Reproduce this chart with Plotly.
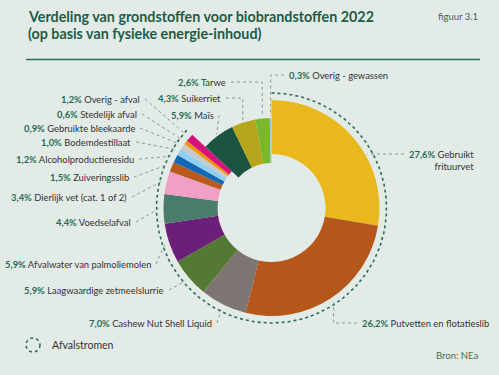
import numpy as np
import plotly.graph_objects as go

# ---------------- data ----------------
waste_labels = ["Gebruikt frituurvet", "Putvetten en flotatieslib", "Cashew Nut Shell Liquid",
                "Laagwaardige zetmeelslurrie", "Afvalwater van palmoliemolen", "Voedselafval",
                "Dierlijk vet (cat. 1 of 2)", "Zuiveringsslib", "Alcoholproductieresidu",
                "Bodemdestillaat", "Gebruikte bleekaarde", "Stedelijk afval", "Overig - afval"]
waste_values = [27.6, 26.2, 7.0, 5.9, 5.9, 4.4, 3.4, 1.5, 1.2, 1.0, 0.9, 0.6, 1.2]
crop_labels = ["Maïs", "Suikerriet", "Tarwe", "Overig - gewassen"]
crop_values = [5.9, 4.3, 2.6, 0.3]

waste_colors = ["#e9b81d", "#b5571a", "#7c7572", "#537933", "#6a2078", "#4b7c69",
                "#f1a0c5", "#b75a1c", "#1268b3", "#8fd0f1", "#c9c9c9", "#f39200", "#d8127b"]
crop_colors = ["#1b5541", "#b7a61c", "#7bb72d", "#8dd2dc"]

# ---------------- layout constants ----------------
W, H = 499, 375
CX, CY = 271.5, 208
R_WASTE, R_CROP, R_ARC = 108, 90, 115
BG = "#e3ebe7"
TITLE_C = "#1d5c47"
PCT_C = "#1f6b55"
TXT_C = "#333333"
FONT = "Lato"
LBL_SIZE = 9.4

# label placement: (x, y, anchor, leader mode, leader y)
label_pos = {
    "Gebruikt frituurvet": (407, 160, "left", "h", 154),
    "Putvetten en flotatieslib": (360, 323, "left", "elbow", 323),
    "Cashew Nut Shell Liquid": (214, 323, "right", "straight", 323),
    "Laagwaardige zetmeelslurrie": (166, 290, "right", "straight", 290),
    "Afvalwater van palmoliemolen": (153, 264, "right", "straight", 264),
    "Voedselafval": (133, 222, "right", "straight", 222),
    "Dierlijk vet (cat. 1 of 2)": (129, 197, "right", "straight", 197),
    "Zuiveringsslib": (131, 177, "right", "straight", 177),
    "Alcoholproductieresidu": (136, 159, "right", "straight", 159),
    "Bodemdestillaat": (133, 142, "right", "straight", 142),
    "Gebruikte bleekaarde": (137, 128, "right", "straight", 128),
    "Stedelijk afval": (139, 114, "right", "straight", 114),
    "Overig - afval": (142, 99, "right", "straight", 99),
    "Maïs": (216, 115, "right", "straight", 115),
    "Suikerriet": (223, 98, "right", "elbow", 98),
    "Tarwe": (228, 82, "right", "elbow", 82),
    "Overig - gewassen": (287, 75, "left", "elbow", 75),
}


def dom(r):
    return dict(x=[(CX - r) / W, (CX + r) / W], y=[(H - CY - r) / H, (H - CY + r) / H])


fig = go.Figure()

waste_total = sum(waste_values)
crop_total = sum(crop_values)
total = waste_total + crop_total

# outer (waste) ring
fig.add_trace(go.Pie(
    values=waste_values + [crop_total],
    labels=waste_labels + ["_crops"],
    marker=dict(colors=waste_colors + ["rgba(0,0,0,0)"], line=dict(width=0)),
    hole=0.5, sort=False, direction="clockwise", rotation=0,
    textinfo="none", hoverinfo="skip", showlegend=False, domain=dom(R_WASTE)))

# inner (crops) ring
fig.add_trace(go.Pie(
    values=[waste_total] + crop_values,
    labels=["_waste"] + crop_labels,
    marker=dict(colors=["rgba(0,0,0,0)"] + crop_colors, line=dict(width=0)),
    hole=0.5, sort=False, direction="clockwise", rotation=0,
    textinfo="none", hoverinfo="skip", showlegend=False, domain=dom(R_CROP)))

# angles from data
all_labels = waste_labels + crop_labels
all_values = waste_values + crop_values
cum = np.cumsum([0] + all_values)
mid_frac = {lab: (cum[i] + all_values[i] / 2) / total for i, lab in enumerate(all_labels)}


def pt(frac, r):
    a = 2 * np.pi * frac
    return CX + r * np.sin(a), CY - r * np.cos(a)


# dotted arc around waste streams
arc_f = np.linspace(0, waste_total / total, 200)
ax_, ay_ = zip(*[pt(f, R_ARC) for f in arc_f])
fig.add_trace(go.Scatter(x=list(ax_), y=list(ay_), mode="lines",
                         line=dict(color="#2b6d57", width=1.6, dash="dot"),
                         hoverinfo="skip", showlegend=False))

# leader lines and labels
lx, ly = [], []
annotations = []
for i, lab in enumerate(all_labels):
    v = all_values[i]
    x, y, anchor, mode, yl = label_pos[lab]
    is_crop = lab in crop_labels
    r_lead = 92 if is_crop else 113
    sx = x + 3 if anchor == "right" else x - 3
    if mode == "h":
        r = 110
        ex = CX + np.sqrt(r ** 2 - (yl - CY) ** 2)
        lx += [sx, ex, None]
        ly += [yl, yl, None]
    else:
        px, py = pt(mid_frac[lab], r_lead)
        if mode == "elbow":
            lx += [sx, px, px, None]
            ly += [yl, yl, py, None]
        else:
            lx += [sx, px, None]
            ly += [yl, py, None]
    num = f"{v:.1f}".replace(".", ",")
    name = "Gebruikt<br>frituurvet" if lab == "Gebruikt frituurvet" else lab
    annotations.append(dict(
        x=x, y=y, xref="x", yref="y", xanchor=anchor, yanchor="middle",
        text=f"<b><span style='color:{PCT_C}'>{num}%</span></b> {name}",
        align="right", showarrow=False, font=dict(family=FONT, size=LBL_SIZE, color=TXT_C)))

fig.add_trace(go.Scatter(x=lx, y=ly, mode="lines",
                         line=dict(color="#8d9893", width=1, dash="dot"),
                         hoverinfo="skip", showlegend=False))

# horizontal rule under the title (as a filled annotation box)
annotations.append(dict(
    x=26, y=59, xref="x", yref="y", xanchor="left", yanchor="middle",
    text=" ", width=454, height=1, bgcolor="#2b6d57", borderpad=0, borderwidth=0,
    showarrow=False, font=dict(size=1)))

# titles and other texts
annotations += [
    dict(x=26, y=16, xref="x", yref="y", xanchor="left", yanchor="middle", showarrow=False,
         text="<b>Verdeling van grondstoffen voor biobrandstoffen 2022</b>",
         font=dict(family=FONT, size=14.3, color=TITLE_C)),
    dict(x=26, y=33, xref="x", yref="y", xanchor="left", yanchor="middle", showarrow=False,
         text="<b>(op basis van fysieke energie-inhoud)</b>",
         font=dict(family=FONT, size=14.3, color=TITLE_C)),
    dict(x=480, y=16, xref="x", yref="y", xanchor="right", yanchor="middle", showarrow=False,
         text="figuur 3.1", font=dict(family=FONT, size=9.5, color="#4d5a55")),
    dict(x=50, y=345, xref="x", yref="y", xanchor="left", yanchor="middle", showarrow=False,
         text="Afvalstromen", font=dict(family=FONT, size=10.5, color=TXT_C)),
    dict(x=480, y=355, xref="x", yref="y", xanchor="right", yanchor="middle", showarrow=False,
         text="Bron: NEa", font=dict(family=FONT, size=9.5, color="#3d6e60")),
]

shapes = [
    dict(type="line", xref="x", yref="y", x0=26, x1=480, y0=59.5, y1=59.5, layer="above",
         line=dict(color="#2b6d57", width=1.5)),
    dict(type="circle", xref="x", yref="y", x0=26, x1=40, y0=338, y1=352,
         line=dict(color="#2b6d57", width=1.5, dash="dot")),
]

fig.update_layout(
    width=W, height=H, autosize=False,
    margin=dict(l=0, r=0, t=0, b=0),
    paper_bgcolor=BG, plot_bgcolor=BG,
    xaxis=dict(range=[0, W], visible=False, fixedrange=True),
    yaxis=dict(range=[H, 0], visible=False, fixedrange=True),
    annotations=annotations, shapes=shapes, showlegend=False,
)

fig.write_html("out.html", config={"displayModeBar": False},
               post_script="document.body.style.margin='0';document.body.style.background='" + BG + "';")
